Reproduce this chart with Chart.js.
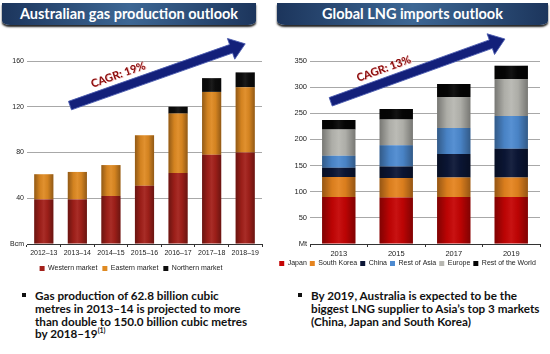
<!DOCTYPE html>
<html>
<head>
<meta charset="utf-8">
<script src="https://cdn.jsdelivr.net/npm/chart.js@4.4.0/dist/chart.umd.min.js"></script>
<style>
  body { margin: 0; width: 550px; height: 354px; background: #fff; position: relative; overflow: hidden; font-family: Lato, "Liberation Sans", sans-serif; }
  .banner { position: absolute; top: 3px; height: 22px; color: #fff; font-weight: bold; font-size: 14.5px; text-align: center; line-height: 22px;
    background: linear-gradient(90deg, #1c355c 0%, #3d6794 50%, #1c355c 100%); border-bottom-left-radius: 8px 4px; border-bottom-right-radius: 8px 4px; box-shadow: 0 2px 2px #222; }
  .panel { position: absolute; top: 0; }
  .note { position: absolute; top: 289px; font-size: 11.7px; font-weight: bold; color: #111; line-height: 12.8px; white-space: nowrap; }
  .note .dot { position: absolute; left: -13px; top: 4px; width: 4px; height: 4px; background: #111; }
  sup { font-size: 7px; line-height: 0; }
</style>
</head>
<body>
<div class="banner" style="left:2px; width:254px;">Australian gas production outlook</div>
<div class="banner" style="left:277px; width:271px;">Global LNG imports outlook</div>
<div class="panel" style="left:0; width:275px; height:282px;"><canvas id="gasChart"></canvas></div>
<div class="panel" style="left:275px; width:275px; height:277px;"><canvas id="lngChart"></canvas></div>
<div class="note" style="left:35px;"><span class="dot"></span>Gas production of 62.8 billion cubic<br>metres in 2013–14 is projected to more<br>than double to 150.0 billion cubic metres<br>by 2018–19<sup>(1)</sup></div>
<div class="note" style="left:311px;"><span class="dot"></span>By 2019, Australia is expected to be the<br>biggest LNG supplier to Asia’s top 3 markets<br>(China, Japan and South Korea)</div>
<script>
// Australian gas production (Bcm)
const gasYears = ["2012–13", "2013–14", "2014–15", "2015–16", "2016–17", "2017–18", "2018–19"];
const westernMarket = [39, 39, 42, 51, 62, 78, 80];
const easternMarket = [22, 24, 27, 44, 52, 55, 57];
const northernMarket = [0, 0, 0, 0, 6, 12, 13];
const gasTicks = [0, 40, 80, 120, 160];

// Global LNG imports (Mt)
const lngYears = ["2013", "2015", "2017", "2019"];
const japan = [90, 89, 90, 90];
const southKorea = [38, 37, 37, 37];
const china = [18, 22, 45, 55];
const restOfAsia = [23, 41, 50, 63];
const europe = [50, 49, 59, 70];
const restOfWorld = [18, 20, 25, 26];
const lngTicks = [0, 50, 100, 150, 200, 250, 300, 350];

const sans = "'Liberation Sans', Arial, sans-serif";

// darker edges on each bar, like the shaded bars of the original
const shadePlugin = {
  id: "barShade",
  afterDatasetsDraw(chart) {
    const ctx = chart.ctx;
    chart.data.datasets.forEach((ds, i) => {
      chart.getDatasetMeta(i).data.forEach((el) => {
        const { x, y, base, width } = el.getProps(["x", "y", "base", "width"], true);
        if (!width || Math.abs(base - y) < 0.5) return;
        const g = ctx.createLinearGradient(x - width / 2, 0, x + width / 2, 0);
        g.addColorStop(0, "rgba(0,0,0,0.35)");
        g.addColorStop(0.3, "rgba(0,0,0,0.05)");
        g.addColorStop(0.5, "rgba(255,255,255,0.06)");
        g.addColorStop(0.7, "rgba(0,0,0,0.05)");
        g.addColorStop(1, "rgba(0,0,0,0.35)");
        ctx.fillStyle = g;
        ctx.fillRect(x - width / 2, Math.min(y, base), width, Math.abs(base - y));
      });
    });
  }
};

// arrow with rotated CAGR label, ends given in data units
const arrowPlugin = {
  id: "cagrArrow",
  afterDraw(chart, args, opts) {
    const { ctx, scales: { x, y } } = chart;
    const x0 = x.getPixelForValue(opts.from[0]), y0 = y.getPixelForValue(opts.from[1]);
    const x1 = x.getPixelForValue(opts.to[0]), y1 = y.getPixelForValue(opts.to[1]);
    const ang = Math.atan2(y1 - y0, x1 - x0);
    const len = Math.hypot(x1 - x0, y1 - y0);
    const shaft = 9, headLen = 15, headW = 22;
    ctx.save();
    ctx.translate(x0, y0);
    ctx.rotate(ang);
    ctx.beginPath();
    ctx.moveTo(0, -shaft / 2);
    ctx.lineTo(len - headLen, -shaft / 2);
    ctx.lineTo(len - headLen, -headW / 2);
    ctx.lineTo(len, 0);
    ctx.lineTo(len - headLen, headW / 2);
    ctx.lineTo(len - headLen, shaft / 2);
    ctx.lineTo(0, shaft / 2);
    ctx.closePath();
    ctx.fillStyle = "#13207a";
    ctx.fill();
    ctx.strokeStyle = "#4b5bb0";
    ctx.lineWidth = 0.8;
    ctx.stroke();
    ctx.font = "bold 11px Lato, sans-serif";
    ctx.textAlign = "center";
    ctx.textBaseline = "bottom";
    ctx.fillStyle = "#f4c0c0";
    ctx.fillText(opts.label, len * opts.labelAt + 0.7, -shaft / 2 - 3 + 0.7);
    ctx.fillStyle = "#8a0a0a";
    ctx.fillText(opts.label, len * opts.labelAt, -shaft / 2 - 3);
    ctx.restore();
  }
};

const makeChart = (id, cfg) => {
  new Chart(document.getElementById(id), {
    type: "bar",
    data: { labels: cfg.labels, datasets: cfg.datasets },
    options: {
      responsive: true,
      maintainAspectRatio: false,
      animation: false,
      layout: { padding: cfg.padding },
      scales: {
        x: {
          stacked: true,
          grid: { drawOnChartArea: false, drawTicks: true, tickLength: 3, color: "#333", offset: true },
          border: { color: "#333", width: 1 },
          ticks: { color: "#222", font: cfg.xFont, padding: 2, maxRotation: 0, minRotation: 0, autoSkip: false },
          afterFit: (s) => { s.height = cfg.xHeight; }
        },
        y: {
          stacked: true,
          min: 0,
          max: cfg.max,
          border: { display: false },
          grid: { color: "#a8a8a8", drawTicks: false },
          afterBuildTicks: (s) => { s.ticks = cfg.ticks.map((v) => ({ value: v })); },
          ticks: {
            color: "#222",
            font: cfg.yFont,
            padding: 3,
            callback: (v) => (v === 0 ? cfg.unit : v)
          },
          afterFit: (s) => { s.width = cfg.yWidth; }
        }
      },
      plugins: {
        legend: {
          position: "bottom",
          labels: {
            color: "#222",
            font: { family: sans, size: 7 },
            usePointStyle: true,
            pointStyle: "rect",
            boxWidth: 5,
            boxHeight: 5,
            padding: cfg.legendPad
          }
        },
        tooltip: { enabled: false },
        cagrArrow: cfg.arrow
      }
    },
    plugins: [shadePlugin, arrowPlugin]
  });
};

const bar = (label, data, color, pct) => ({
  label, data, backgroundColor: color, borderWidth: 0, barPercentage: pct, categoryPercentage: 1
});

makeChart("gasChart", {
  labels: gasYears,
  datasets: [
    bar("Western market", westernMarket, "#a3201a", 0.57),
    bar("Eastern market", easternMarket, "#df8a22", 0.57),
    bar("Northern market", northernMarket, "#0d0d0d", 0.57)
  ],
  max: 160,
  ticks: gasTicks,
  unit: "Bcm",
  yWidth: 27,
  xHeight: 16,
  padding: { top: 61, right: 13, bottom: 0, left: 0 },
  xFont: { family: sans, size: 7 },
  yFont: { family: sans, size: 7 },
  legendPad: 5,
  arrow: { from: [0.78, 121], to: [6.0, 175], label: "CAGR: 19%", labelAt: 0.3 }
});

makeChart("lngChart", {
  labels: lngYears,
  datasets: [
    bar("Japan", japan, "#c50404", 0.58),
    bar("South Korea", southKorea, "#e5841f", 0.58),
    bar("China", china, "#0b1636", 0.58),
    bar("Rest of Asia", restOfAsia, "#4d8ad0", 0.58),
    bar("Europe", europe, "#b7b7b1", 0.58),
    bar("Rest of the World", restOfWorld, "#050505", 0.58)
  ],
  max: 350,
  ticks: lngTicks,
  unit: "Mt",
  yWidth: 35,
  xHeight: 13,
  padding: { top: 61, right: 10, bottom: 0, left: 0 },
  xFont: { family: sans, size: 7.5 },
  yFont: { family: sans, size: 7.5 },
  legendPad: 3,
  arrow: { from: [-0.14, 272], to: [2.89, 392], label: "CAGR: 13%", labelAt: 0.33 }
});
</script>
</body>
</html>
